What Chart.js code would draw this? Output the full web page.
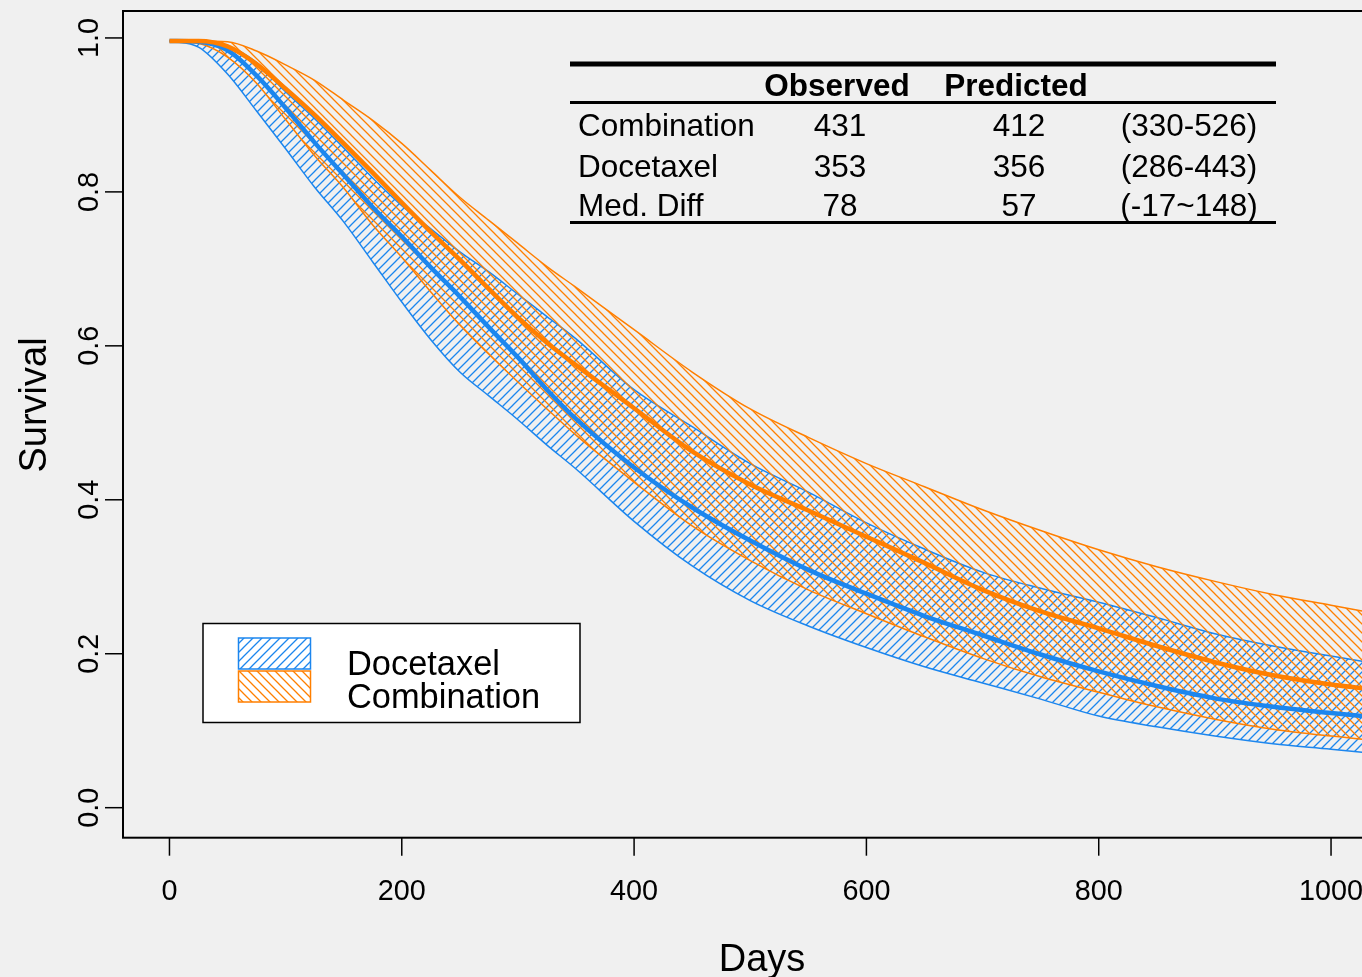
<!DOCTYPE html>
<html>
<head>
<meta charset="utf-8">
<script src="https://cdn.jsdelivr.net/npm/chart.js@4.4.1/dist/chart.umd.min.js"></script>
<style>
html,body{margin:0;padding:0;background:#f0f0f0;overflow:hidden;}
#c{display:block;}
</style>
</head>
<body>
<canvas id="c" width="1380" height="977"></canvas>
<script>
// survival curves (days vs survival)
const days   = [0,25,50,75,100,125,150,175,200,225,250,275,300,325,350,400,450,500,550,600,650,700,750,800,850,900,950,1000,1040];
const docMed = [.996,.995,.984,.951,.909,.864,.822,.780,.742,.702,.664,.624,.585,.543,.505,.442,.390,.347,.309,.278,.249,.224,.199,.177,.158,.142,.131,.123,.117];
const docLo  = [.996,.988,.953,.905,.856,.806,.761,.709,.657,.608,.566,.535,.504,.471,.440,.372,.314,.269,.236,.208,.183,.162,.141,.119,.105,.093,.083,.076,.070];
const docHi  = [.996,.996,.990,.968,.930,.895,.857,.818,.782,.752,.722,.696,.667,.638,.609,.543,.495,.447,.410,.370,.336,.306,.285,.267,.247,.226,.210,.197,.187];
const comMed = [.996,.996,.989,.966,.934,.900,.863,.825,.786,.748,.712,.674,.637,.604,.575,.519,.463,.420,.386,.352,.318,.283,.255,.233,.210,.189,.172,.160,.153];
const comLo  = [.996,.993,.975,.941,.894,.847,.805,.757,.715,.670,.627,.589,.553,.518,.484,.423,.366,.321,.283,.252,.222,.194,.170,.150,.131,.115,.102,.093,.087];
const comHi  = [.996,.996,.995,.983,.965,.945,.919,.893,.863,.828,.793,.763,.733,.703,.676,.621,.566,.518,.481,.447,.417,.387,.360,.335,.313,.294,.277,.263,.252];

const xTicks = [0,200,400,600,800,1000];
const yTicks = [0,0.2,0.4,0.6,0.8,1.0];

// median survival table
const colHeads   = ['Observed','Predicted'];
const rowLabels  = ['Combination','Docetaxel','Med. Diff'];
const observed   = ['431','353','78'];
const predicted  = ['412','356','57'];
const predCI     = ['(330-526)','(286-443)','(-17~148)'];

const legendLabels = ['Docetaxel','Combination'];

const blue='#1c86ee', orange='#ff7f00';
const FONT='"Liberation Sans", Arial, Helvetica, sans-serif';
const canvas=document.getElementById('c');
const mainCtx=canvas.getContext('2d');

function hatch(color,dir){
  const s=9, cv=document.createElement('canvas');
  cv.width=s; cv.height=s;
  const g=cv.getContext('2d');
  g.strokeStyle=color; g.lineWidth=1.3; g.beginPath();
  if(dir>0){
    g.moveTo(0,s); g.lineTo(s,0);
    g.moveTo(-1,1); g.lineTo(1,-1);
    g.moveTo(s-1,s+1); g.lineTo(s+1,s-1);
  } else {
    g.moveTo(0,0); g.lineTo(s,s);
    g.moveTo(-1,s-1); g.lineTo(1,s+1);
    g.moveTo(s-1,-1); g.lineTo(s+1,1);
  }
  g.stroke();
  return mainCtx.createPattern(cv,'repeat');
}
const bluePat=hatch(blue,1), orangePat=hatch(orange,-1);

const pts = arr => days.map((d,i)=>({x:d,y:arr[i]}));

function line(ctx,x1,y1,x2,y2){ctx.beginPath();ctx.moveTo(x1,y1);ctx.lineTo(x2,y2);ctx.stroke();}

const decor={
  id:'decor',
  afterDraw(chart){
    const {ctx,chartArea:a,scales:{x,y}}=chart;
    ctx.save();
    ctx.strokeStyle='#000'; ctx.fillStyle='#000';
    ctx.lineWidth=2;
    ctx.strokeRect(a.left,a.top,a.right-a.left,a.bottom-a.top);

    // axes
    ctx.lineWidth=1.5;
    ctx.font='28.8px '+FONT; ctx.textAlign='center'; ctx.textBaseline='alphabetic';
    xTicks.forEach(v=>{
      const px=x.getPixelForValue(v);
      line(ctx,px,a.bottom,px,a.bottom+18);
      ctx.fillText(String(v),px,900);
    });
    yTicks.forEach(v=>{
      const py=y.getPixelForValue(v);
      line(ctx,a.left-18,py,a.left,py);
      ctx.save(); ctx.translate(98,py); ctx.rotate(-Math.PI/2);
      ctx.fillText(v.toFixed(1),0,0); ctx.restore();
    });
    ctx.font='38px '+FONT;
    ctx.fillText('Days',762,971);
    ctx.save(); ctx.translate(46,405); ctx.rotate(-Math.PI/2);
    ctx.fillText('Survival',0,0); ctx.restore();

    // table
    const tl=570, tr=1276;
    ctx.fillRect(tl,61.5,tr-tl,5);
    ctx.fillRect(tl,101,tr-tl,3);
    ctx.fillRect(tl,221,tr-tl,3);
    ctx.font='bold 31.5px '+FONT;
    ctx.fillText(colHeads[0],837,96);
    ctx.fillText(colHeads[1],1016,96);
    ctx.font='31.5px '+FONT;
    const base=[136,177,216];
    rowLabels.forEach((lab,i)=>{
      ctx.textAlign='left'; ctx.fillText(lab,578,base[i]);
      ctx.textAlign='center';
      ctx.fillText(observed[i],840,base[i]);
      ctx.fillText(predicted[i],1019,base[i]);
      ctx.fillText(predCI[i],1189,base[i]);
    });

    // legend
    ctx.fillStyle='#fff';
    ctx.fillRect(203,623.5,377,99);
    ctx.lineWidth=1.5; ctx.strokeStyle='#000';
    ctx.strokeRect(203,623.5,377,99);
    [[blue,bluePat,638],[orange,orangePat,671]].forEach(([c,p,yy])=>{
      ctx.fillStyle=p; ctx.fillRect(238.5,yy,72,31);
      ctx.strokeStyle=c; ctx.lineWidth=1.5; ctx.strokeRect(238.5,yy,72,31);
    });
    ctx.fillStyle='#000'; ctx.textAlign='left';
    ctx.font='34.4px '+FONT;
    ctx.fillText(legendLabels[0],347,675);
    ctx.fillText(legendLabels[1],347,707.5);
    ctx.restore();
  }
};

const thin={pointRadius:0,cubicInterpolationMode:'monotone',borderWidth:1.5,borderJoinStyle:'round'};
new Chart(canvas,{
  type:'line',
  data:{datasets:[
    {...thin,label:'docLo',data:pts(docLo),borderColor:blue,fill:false,order:6},
    {...thin,label:'docHi',data:pts(docHi),borderColor:blue,backgroundColor:bluePat,fill:0,order:5},
    {...thin,label:'comLo',data:pts(comLo),borderColor:orange,fill:false,order:4},
    {...thin,label:'comHi',data:pts(comHi),borderColor:orange,backgroundColor:orangePat,fill:2,order:3},
    {...thin,label:'Docetaxel',data:pts(docMed),borderColor:blue,borderWidth:4.5,fill:false,order:2},
    {...thin,label:'Combination',data:pts(comMed),borderColor:orange,borderWidth:4.5,fill:false,order:1}
  ]},
  options:{
    responsive:false,animation:false,devicePixelRatio:1,
    layout:{padding:{left:123,right:2.5,top:11,bottom:139.3}},
    plugins:{legend:{display:false},tooltip:{enabled:false}},
    scales:{
      x:{type:'linear',min:-40,max:1040,display:false},
      y:{type:'linear',min:-0.039,max:1.035,display:false}
    }
  },
  plugins:[decor]
});
</script>
</body>
</html>
